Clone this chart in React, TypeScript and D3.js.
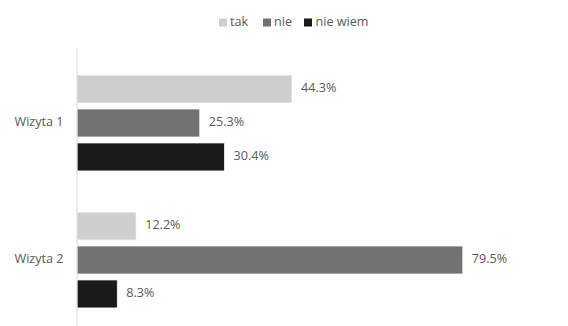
import React from "react";
import * as d3 from "d3";

const categories = ["Wizyta 1", "Wizyta 2"];
const seriesNames = ["tak", "nie", "nie wiem"];
const takValues = [44.3, 12.2];
const nieValues = [25.3, 79.5];
const nieWiemValues = [30.4, 8.3];
const seriesColors = ["#d0cfcf", "#767171", "#1a1a1a"];

const W = 568;
const H = 326;
const FONT = "'Open Sans', sans-serif";
const TEXT = "#595959";
const FS = 12.6;

export default function App() {
  const seriesValues = [takValues, nieValues, nieWiemValues];
  const y0 = d3.scaleBand<string>().domain(categories).range([54.5, 328.5]).paddingInner(0.3).paddingOuter(0.15);
  const y1 = d3.scaleBand<string>().domain(seriesNames).range([0, y0.bandwidth()]).paddingInner(0.176).paddingOuter(0);
  const x = d3.scaleLinear().domain([0, 100]).range([77, 562.3]);

  const legendItems = [
    { name: seriesNames[0], sx: 219, tx: 230 },
    { name: seriesNames[1], sx: 263, tx: 274 },
    { name: seriesNames[2], sx: 304, tx: 315.5 },
  ];

  return (
    <div style={{ position: "fixed", left: 0, top: 0 }}>
      <svg width={W} height={H} style={{ display: "block", background: "#fff" }} fontFamily={FONT}>
        {legendItems.map((l, i) => (
          <g key={l.name}>
            <rect x={l.sx} y={18.5} width={8} height={8} fill={seriesColors[i]} />
            <text x={l.tx} y={23} dominantBaseline="middle" fontSize={FS} fill={TEXT}>{l.name}</text>
          </g>
        ))}
        {categories.map((c, ci) => (
          <g key={c}>
            <text x={63.5} y={y0(c)! + y0.bandwidth() / 2} dominantBaseline="middle" textAnchor="end" fontSize={FS} fill={TEXT}>{c}</text>
            {seriesNames.map((s, si) => {
              const v = seriesValues[si][ci];
              const yy = y0(c)! + y1(s)!;
              return (
                <g key={s}>
                  <rect x={x(0)} y={yy} width={x(v) - x(0)} height={y1.bandwidth()} fill={seriesColors[si]} stroke="#fff" strokeWidth={0.75} />
                  <text x={x(v) + 9} y={yy + y1.bandwidth() / 2} dominantBaseline="middle" fontSize={FS} fill={TEXT}>{v.toFixed(1) + "%"}</text>
                </g>
              );
            })}
          </g>
        ))}
        <line x1={77} x2={77} y1={48} y2={H} stroke="#d9d9d9" strokeWidth={1} />
      </svg>
    </div>
  );
}
